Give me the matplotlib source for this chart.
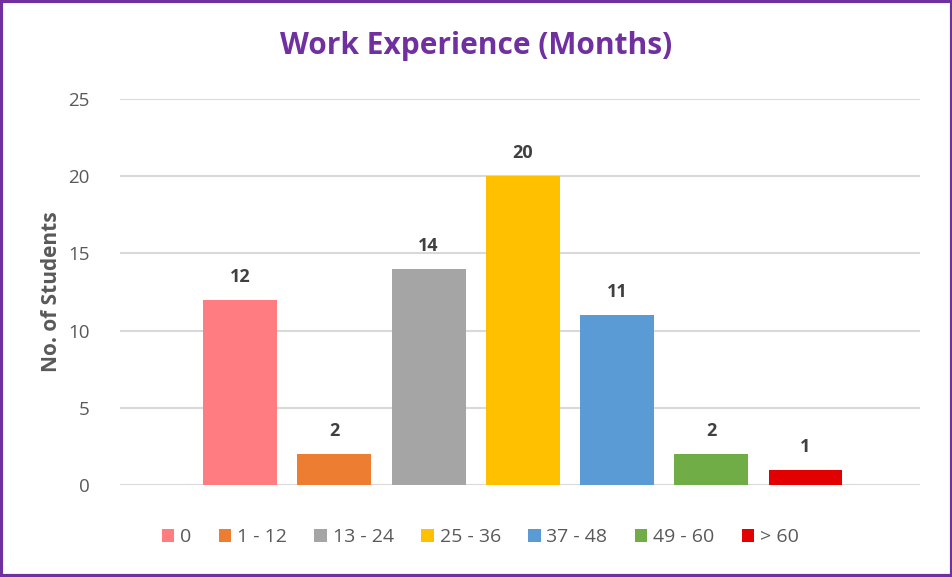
import matplotlib
matplotlib.use("Agg")
import matplotlib.pyplot as plt
from matplotlib.patches import Patch, Rectangle

plt.rcParams['font.family'] = ['Open Sans', 'DejaVu Sans']

categories = ["0", "1 - 12", "13 - 24", "25 - 36", "37 - 48", "49 - 60", "> 60"]
students = [12, 2, 14, 20, 11, 2, 1]
colors = ["#FF7C80", "#ED7D31", "#A5A5A5", "#FFC000", "#5B9BD5", "#70AD47", "#E20000"]
yticks = [0, 5, 10, 15, 20, 25]

fig = plt.figure(figsize=(9.53, 5.77), dpi=100)
ax = fig.add_axes([120 / 953, 1 - 485 / 577, 800 / 953, 386 / 577])

x = list(range(len(students)))
bars = ax.bar(x, students, width=0.785, color=colors, zorder=3)
for xi, v in zip(x, students):
    ax.annotate(str(v), (xi, v), xytext=(0, 10), textcoords="offset points",
                ha="center", va="bottom", fontsize=13, fontweight="bold", color="#404040")

ax.set_xlim(-1.275, 7.215)
ax.set_ylim(0, 25)
ax.set_yticks(yticks)
ax.set_xticks([])
ax.tick_params(axis="y", length=0, pad=22, labelsize=13.5, labelcolor="#595959")
ax.grid(axis="y", color="#D9D9D9", linewidth=1.5, zorder=0)
for s in ax.spines.values():
    s.set_visible(False)

fig.text(0.5, 1 - 46 / 577, "Work Experience (Months)", ha="center", va="center",
         fontsize=21.5, fontweight="bold", color="#7030A0")
fig.text(52 / 953, 1 - 292 / 577, "No. of Students", rotation=90, ha="center", va="center",
         fontsize=15, fontweight="bold", color="#595959")

handles = [Patch(facecolor=c, label=l) for c, l in zip(colors, categories)]
fig.legend(handles=handles, loc="center", bbox_to_anchor=(0.504, 1 - 537 / 577), ncol=7,
           frameon=False, fontsize=14, labelcolor="#595959", handlelength=0.65, handleheight=0.65,
           handletextpad=0.3, columnspacing=1.4)

fig.patches.append(Rectangle((0.0015, 0.0025), 0.997, 0.995, transform=fig.transFigure,
                             fill=False, edgecolor="#7030A0", linewidth=3))

fig.savefig("out.png", dpi=100)
